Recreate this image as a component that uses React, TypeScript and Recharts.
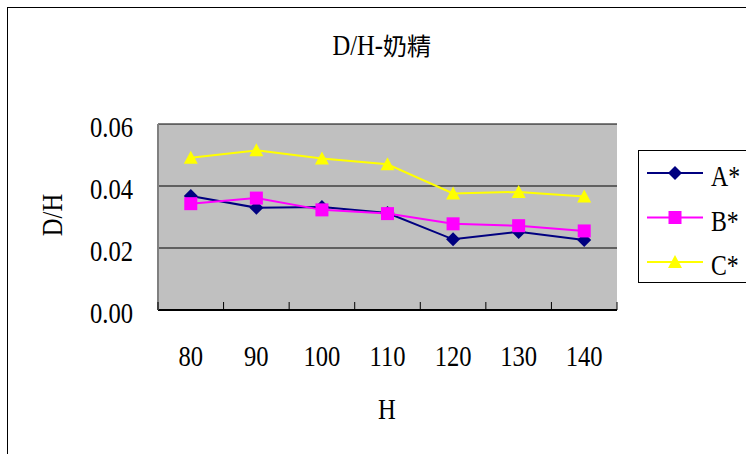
import React from 'react';
import {
  LineChart,
  Line,
  XAxis,
  YAxis,
  CartesianGrid,
  Legend
} from 'recharts';

// H categories and D/H values per sample
const hValues = ['80', '90', '100', '110', '120', '130', '140'];
const seriesA = [0.0368, 0.0330, 0.0332, 0.0313, 0.0228, 0.0252, 0.0226];
const seriesB = [0.0343, 0.0361, 0.0323, 0.0311, 0.0278, 0.0272, 0.0255];
const seriesC = [0.0491, 0.0515, 0.0489, 0.0470, 0.0376, 0.0381, 0.0366];
const yTicks = [0, 0.02, 0.04, 0.06];

type Shape = 'diamond' | 'square' | 'triangle';

interface SeriesDef {
  key: string;
  name: string;
  color: string;
  shape: Shape;
}

const SERIES: SeriesDef[] = [
  { key: 'a', name: 'A*', color: '#000080', shape: 'diamond' },
  { key: 'b', name: 'B*', color: '#FF00FF', shape: 'square' },
  { key: 'c', name: 'C*', color: '#FFFF00', shape: 'triangle' },
];

const data = hValues.map((h, i) => ({
  h,
  a: seriesA[i],
  b: seriesB[i],
  c: seriesC[i],
}));

const W = 738;
const H = 446;
const MARGIN = { top: 116, right: 129, bottom: 44, left: 0 };
const Y_AXIS_W = 150;
const X_AXIS_H = 100;
const PLOT_W = W - MARGIN.left - MARGIN.right - Y_AXIS_W;
const BAND = PLOT_W / hValues.length;

const SERIF = "'Liberation Serif', 'Times New Roman', serif";
const CJK = "'Noto Sans CJK TC', 'Noto Sans CJK SC', sans-serif";
// the original typeface is a tall, narrow serif
const NARROW = 0.82;

const marker = (shape: Shape, cx: number, cy: number, color: string, key?: string) => {
  if (shape === 'diamond') {
    return <path key={key} d={`M${cx},${cy - 7}L${cx + 7},${cy}L${cx},${cy + 7}L${cx - 7},${cy}Z`} fill={color} />;
  }
  if (shape === 'square') {
    return <rect key={key} x={cx - 6.5} y={cy - 6.5} width={13} height={13} fill={color} />;
  }
  return <path key={key} d={`M${cx},${cy - 7}L${cx + 7},${cy + 6}L${cx - 7},${cy + 6}Z`} fill={color} />;
};

const NarrowText = ({ x, y, anchor = 'middle', size = 30, rotate = 0, children }: any) => (
  <text
    transform={`translate(${x},${y})${rotate ? ` rotate(${rotate})` : ''} scale(${NARROW},1)`}
    textAnchor={anchor}
    fontFamily={SERIF}
    fontSize={size}
    fill="#000"
  >
    {children}
  </text>
);

const HTick = (props: any) => {
  const { x, y, payload, index } = props;
  const half = BAND / 2;
  return (
    <g>
      <line x1={x - half} x2={x - half} y1={y} y2={y - 8} stroke="#000" strokeWidth={1} />
      {index === hValues.length - 1 && (
        <line x1={x + half} x2={x + half} y1={y} y2={y - 8} stroke="#000" strokeWidth={1} />
      )}
      <NarrowText x={x} y={y + 56}>{payload.value}</NarrowText>
    </g>
  );
};

const DHTick = (props: any) => {
  const { x, y, payload } = props;
  return (
    <NarrowText x={x - 25} y={y + 13} anchor="end">
      {Number(payload.value).toFixed(2)}
    </NarrowText>
  );
};

const LegendBox = () => (
  <svg width={108} height={134} style={{ display: 'block' }}>
    <rect x={0.5} y={0.5} width={130} height={132} fill="#fff" stroke="#000" />
    {SERIES.map((s, i) => {
      const cy = 23 + i * 44.5;
      return (
        <g key={s.key}>
          <line x1={9} x2={65} y1={cy} y2={cy} stroke={s.color} strokeWidth={2} />
          {marker(s.shape, 37, cy, s.color)}
          <NarrowText x={73} y={cy + 13} anchor="start" size={29}>{s.name}</NarrowText>
        </g>
      );
    })}
  </svg>
);

export default function App() {
  return (
    <div
      style={{
        position: 'absolute',
        left: 7,
        top: 7,
        width: W,
        height: H,
        borderLeft: '1px solid #000',
        borderTop: '1px solid #000',
        background: '#fff',
        overflow: 'hidden',
      }}
    >
      <LineChart width={W} height={H} data={data} margin={MARGIN}>
        <CartesianGrid vertical={false} stroke="#000" fill="#C0C0C0" fillOpacity={1} />
        <XAxis
          dataKey="h"
          scale="band"
          height={X_AXIS_H}
          tickSize={0}
          tickMargin={0}
          tickLine={false}
          interval={0}
          axisLine={{ stroke: '#000', strokeWidth: 2 }}
          tick={(p: any) => <HTick {...p} />}
        />
        <XAxis
          xAxisId="top"
          dataKey="h"
          scale="band"
          orientation="top"
          height={0}
          tick={false}
          tickLine={false}
          axisLine={{ stroke: '#808080', strokeWidth: 2 }}
        />
        <YAxis
          width={Y_AXIS_W}
          domain={[0, 0.06]}
          ticks={yTicks}
          tickSize={0}
          tickMargin={0}
          tickLine={false}
          axisLine={{ stroke: '#808080', strokeWidth: 2 }}
          tick={(p: any) => <DHTick {...p} />}
        />
        <YAxis
          yAxisId="right"
          orientation="right"
          width={0}
          domain={[0, 0.06]}
          tick={false}
          tickLine={false}
          axisLine={{ stroke: '#808080', strokeWidth: 2 }}
        />
        {SERIES.map((s) => (
          <Line
            key={s.key}
            type="linear"
            dataKey={s.key}
            name={s.name}
            stroke={s.color}
            strokeWidth={2}
            isAnimationActive={false}
            dot={(p: any) => marker(s.shape, p.cx, p.cy, s.color, `${s.key}-${p.index}`)}
            activeDot={false}
          />
        ))}
        <Legend
          layout="vertical"
          align="center"
          verticalAlign="middle"
          wrapperStyle={{ left: 630, top: 142, width: 108, height: 134 }}
          content={() => <LegendBox />}
        />
        {/* chart title: latin part in the narrow serif, CJK part after it */}
        <NarrowText x={375} y={47} anchor="end">D/H-</NarrowText>
        <text x={375} y={47} fontFamily={CJK} fontSize={24} fill="#000">奶精</text>
        <NarrowText x={44} y={207} rotate={-90} size={30}>
          <tspan dy={10}>D/H</tspan>
        </NarrowText>
        <NarrowText x={379} y={411}>H</NarrowText>
      </LineChart>
    </div>
  );
}
